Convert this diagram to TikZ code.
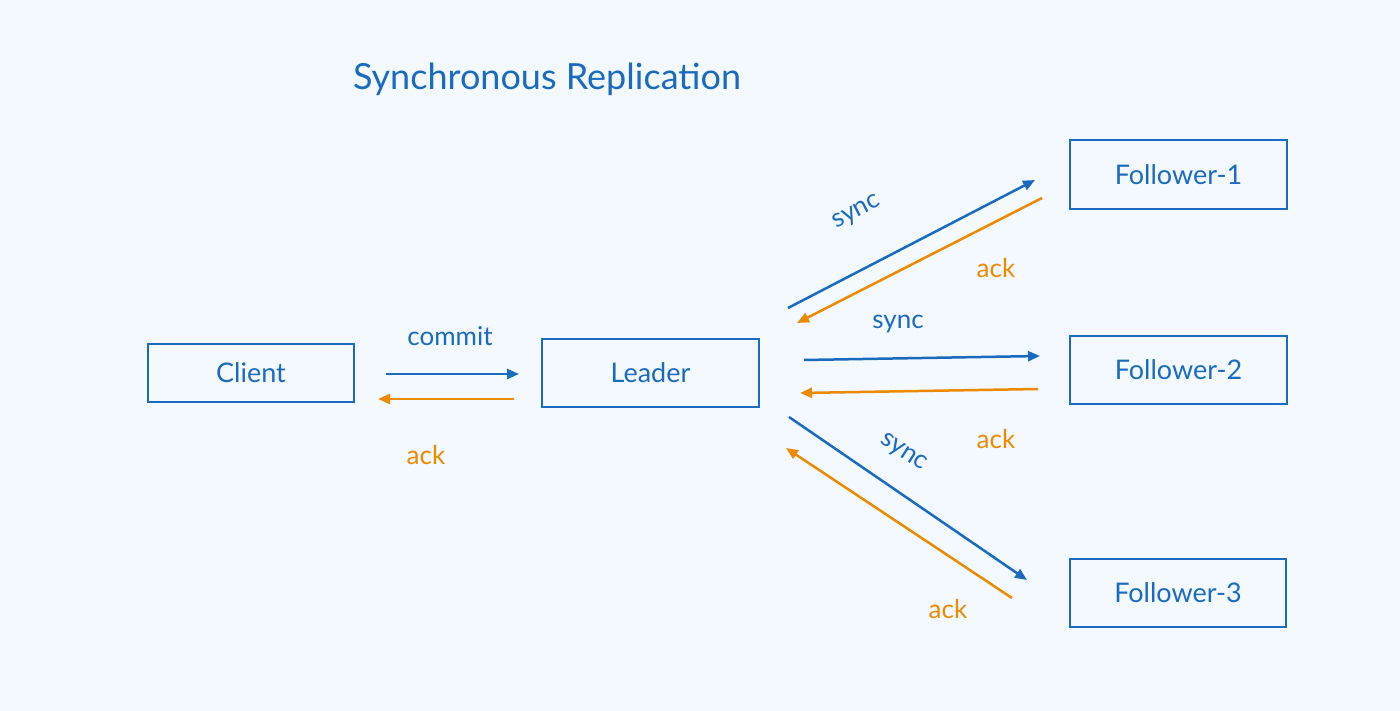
\documentclass[tikz,border=0pt]{standalone}
\usepackage{fontspec}
\setmainfont{Lato}
\usetikzlibrary{arrows.meta}
\definecolor{bg}{HTML}{F3F9FE}
\definecolor{blu}{HTML}{1A6BBF}
\definecolor{org}{HTML}{EE8A00}
\begin{document}
\begin{tikzpicture}[x=1pt,y=-1pt,
 box/.style={draw=blu,line width=2.4pt,text=blu,font=\fontsize{27}{32}\selectfont,inner sep=0pt},
 sa/.style={blu,line width=2.5pt,-{Triangle[length=12pt,width=10pt]}},
 oa/.style={org,line width=2.5pt,-{Triangle[length=12pt,width=10pt]}},
 bl/.style={text=blu,font=\fontsize{26}{30}\selectfont,inner sep=1pt},
 ol/.style={text=org,font=\fontsize{26}{30}\selectfont,inner sep=1pt}]
\fill[bg] (0,0) rectangle (1400,711);
\useasboundingbox (0,0) rectangle (1400,711);
\node[text=blu,font=\fontsize{36}{42}\selectfont] (title) at (547,79) {Synchronous Replication};
\node[box,minimum width=206pt,minimum height=58pt] (client) at (251,373) {Client};
\node[box,minimum width=217pt,minimum height=68pt] (leader) at (650.5,373) {Leader};
\node[box,minimum width=217pt,minimum height=69pt] (f1) at (1178.5,174.5) {Follower-1};
\node[box,minimum width=217pt,minimum height=68pt] (f2) at (1178.5,370) {Follower-2};
\node[box,minimum width=216pt,minimum height=68pt] (f3) at (1178,593) {Follower-3};
\foreach \n/\x/\y in {a1/386/374,a2/519/374,b1/514/399,b2/378/399,
 c1/788/308,c2/1035/180,d1/1042/198,d2/797/323,
 e1/804/360,e2/1040/356,g1/1038/389,g2/800/393,
 h1/789/417,h2/1027/580,i1/1012/598,i2/786/448}
 \coordinate (\n) at (\x,\y);
\draw[sa] (a1) -- (a2); \draw[oa] (b1) -- (b2);
\draw[sa] (c1) -- (c2); \draw[oa] (d1) -- (d2);
\draw[sa] (e1) -- (e2); \draw[oa] (g1) -- (g2);
\draw[sa] (h1) -- (h2); \draw[oa] (i1) -- (i2);
\node[bl] (lc) at (450,336) {commit};
\node[ol] (la) at (426,455) {ack};
\node[bl,rotate=27] (ls1) at (857,213) {sync};
\node[ol] (la1) at (996,268) {ack};
\node[bl] (ls2) at (898,324) {sync};
\node[ol] (la2) at (996,439) {ack};
\node[bl,rotate=-33] (ls3) at (903,453) {sync};
\node[ol] (la3) at (948,609) {ack};
\end{tikzpicture}
\end{document}
